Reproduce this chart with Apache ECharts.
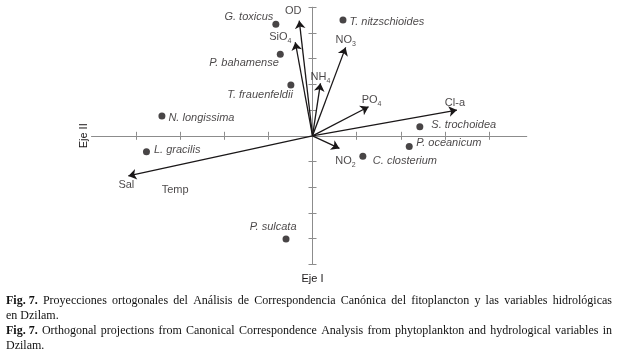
<!DOCTYPE html>
<html>
<head>
<meta charset="utf-8">
<script src="https://cdn.jsdelivr.net/npm/echarts@6/dist/echarts.min.js"></script>
<style>
  html, body { margin: 0; padding: 0; background: #fff; }
  #chart { width: 620px; height: 357px; }
</style>
</head>
<body>
<div id="chart"></div>
<script>
// especies (puntos)
var species = ['G. toxicus', 'T. nitzschioides', 'P. bahamense', 'T. frauenfeldii', 'N. longissima',
  'L. gracilis', 'S. trochoidea', 'P. oceanicum', 'C. closterium', 'P. sulcata'];
var speciesX = [-0.83, 0.69, -0.73, -0.49, -3.41, -3.76, 2.43, 2.19, 1.14, -0.60];
var speciesY = [4.34, 4.51, 3.17, 1.98, 0.77, -0.62, 0.35, -0.42, -0.80, -4.02];

// variables hidrologicas (flechas)
var variables = ['OD', 'SiO4', 'NO3', 'NH4', 'PO4', 'Cl-a', 'NO2', 'Sal'];
var variableText = ['OD', 'SiO{s|4}', 'NO{s|3}', 'NH{s|4}', 'PO{s|4}', 'Cl-a', 'NO{s|2}', 'Sal'];
var varX = [-0.30, -0.39, 0.75, 0.18, 1.27, 3.27, 0.61, -4.17];
var varY = [4.48, 3.64, 3.44, 2.04, 1.13, 1.00, -0.49, -1.56];

// etiqueta sin flecha
var extraLabels = ['Temp'];
var extraX = [-3.11];
var extraY = [-2.11];

var xTicks = [-4, -3, -2, -1, 1, 2, 3, 4];
var yTicks = [-5, -4, -3, -2, -1, 1, 2, 3, 4, 5];

// pie de figura: [negrita, resto, justificada]
var caption = [
  ['Fig. 7.', 'Proyecciones ortogonales del Análisis de Correspondencia Canónica del fitoplancton y las variables hidrológicas', true],
  ['', 'en Dzilam.', false],
  ['Fig. 7.', 'Orthogonal projections from Canonical Correspondence Analysis from phytoplankton and hydrological variables in', true],
  ['', 'Dzilam.', false]
];

// posiciones de etiquetas (px)
var speciesLabelPos = {
  'G. toxicus': ['left', [1, -7]],
  'T. nitzschioides': ['right', [3, 2]],
  'P. bahamense': ['left', [2, 9]],
  'T. frauenfeldii': ['left', [5.5, 10]],
  'N. longissima': ['right', [3, 2]],
  'L. gracilis': ['right', [4, -1.5]],
  'S. trochoidea': ['right', [8, -1.5]],
  'P. oceanicum': ['right', [3.5, -4]],
  'C. closterium': ['right', [6.5, 5]],
  'P. sulcata': ['left', [14, -12]]
};
var varLabelOffset = {
  'OD': [-6, -10], 'SiO4': [-15, -5], 'NO3': [0, -7], 'NH4': [0, -6],
  'PO4': [3, -7], 'Cl-a': [-2, -7], 'NO2': [6, 13], 'Sal': [-2, 9]
};

var ink = '#1a1718';
var axisGray = '#8c8c8c';
var sans = 'Liberation Sans';
var serif = 'Liberation Serif';

var chart = echarts.init(document.getElementById('chart'));

var speciesData = species.map(function (n, i) {
  var p = speciesLabelPos[n];
  return {
    name: n, value: [speciesX[i], speciesY[i]],
    label: { position: p[0], offset: p[1], distance: 0 }
  };
});
var arrowData = variables.map(function (n, i) {
  return { coords: [[0, 0], [varX[i], varY[i]]] };
});
var varLabelData = variables.map(function (n, i) {
  return {
    name: variableText[i], value: [varX[i], varY[i]],
    label: { offset: varLabelOffset[n] }
  };
}).concat(extraLabels.map(function (n, i) {
  return { name: n, value: [extraX[i], extraY[i]], label: { offset: [0, 0] } };
}));

function xAxisDef(withName) {
  return {
    type: 'value', min: -5, max: 4.85,
    splitLine: { show: false },
    axisLabel: { show: false },
    axisLine: { onZero: true, lineStyle: { color: axisGray, width: 1 } },
    axisTick: { show: true, inside: false, length: 4, customValues: xTicks, lineStyle: { color: axisGray } },
    name: withName ? 'Eje II' : '',
    nameLocation: 'start', nameRotate: 90, nameGap: 2,
    nameTextStyle: { fontFamily: sans, fontSize: 11, color: ink }
  };
}
function yAxisDef(withName) {
  return {
    type: 'value', min: -5, max: 5,
    splitLine: { show: false },
    axisLabel: { show: false },
    axisLine: { onZero: true, onZeroAxisIndex: 0, lineStyle: { color: axisGray, width: 1 } },
    axisTick: { show: true, inside: false, length: 4, customValues: yTicks, lineStyle: { color: axisGray } },
    name: withName ? 'Eje I' : '',
    nameLocation: 'start', nameGap: 9,
    nameTextStyle: { fontFamily: sans, fontSize: 11, color: ink }
  };
}

// justificado del pie de figura
var ctx = document.createElement('canvas').getContext('2d');
function measure(t, bold) {
  ctx.font = (bold ? 'bold ' : '') + '12px "' + serif + '"';
  return ctx.measureText(t).width;
}
var capLeft = 6, capRight = 612, capY = 301.3, capStep = 14.8;
var captionEls = [];
caption.forEach(function (line, li) {
  var words = [];
  if (line[0]) words.push({ t: line[0], b: true });
  line[1].split(' ').forEach(function (w) { words.push({ t: w, b: false }); });
  var total = 0;
  words.forEach(function (w) { w.w = measure(w.t, w.b); total += w.w; });
  var gap = line[2] ? (capRight - capLeft - total) / (words.length - 1) : measure(' ', false);
  var x = capLeft;
  words.forEach(function (w) {
    captionEls.push({
      type: 'text', x: x, y: capY + li * capStep, silent: true,
      style: {
        text: w.t, fontFamily: serif, fontSize: 12, fontWeight: w.b ? 'bold' : 'normal',
        fill: '#111', align: 'left', verticalAlign: 'middle'
      }
    });
    x += w.w + gap;
  });
});

chart.setOption({
  animation: false,
  backgroundColor: '#fff',
  grid: { left: 91.7, right: 93.3, top: 7.3, bottom: 92.7 },
  xAxis: [xAxisDef(true), xAxisDef(false)],
  yAxis: [yAxisDef(true), yAxisDef(false)],
  series: [
    {
      type: 'lines', coordinateSystem: 'cartesian2d',
      xAxisIndex: 0, yAxisIndex: 0,
      symbol: ['none', 'arrow'], symbolSize: 8,
      lineStyle: { color: ink, width: 1.3, opacity: 1 },
      data: arrowData, silent: true
    },
    {
      type: 'scatter', xAxisIndex: 0, yAxisIndex: 0,
      symbolSize: 0, silent: true,
      label: {
        show: true, position: 'inside', formatter: '{b}',
        fontFamily: sans, fontSize: 11, color: ink,
        rich: { s: { fontFamily: sans, fontSize: 7, color: ink, verticalAlign: 'bottom', padding: [8, 0, 0, 0] } }
      },
      data: varLabelData
    },
    {
      type: 'scatter', xAxisIndex: 0, yAxisIndex: 0,
      symbol: 'circle', symbolSize: 7,
      itemStyle: { color: ink },
      label: {
        show: true, formatter: '{b}',
        fontFamily: sans, fontSize: 11, fontStyle: 'italic', color: ink
      },
      data: speciesData, silent: true
    }
  ],
  graphic: captionEls
});
</script>
</body>
</html>
